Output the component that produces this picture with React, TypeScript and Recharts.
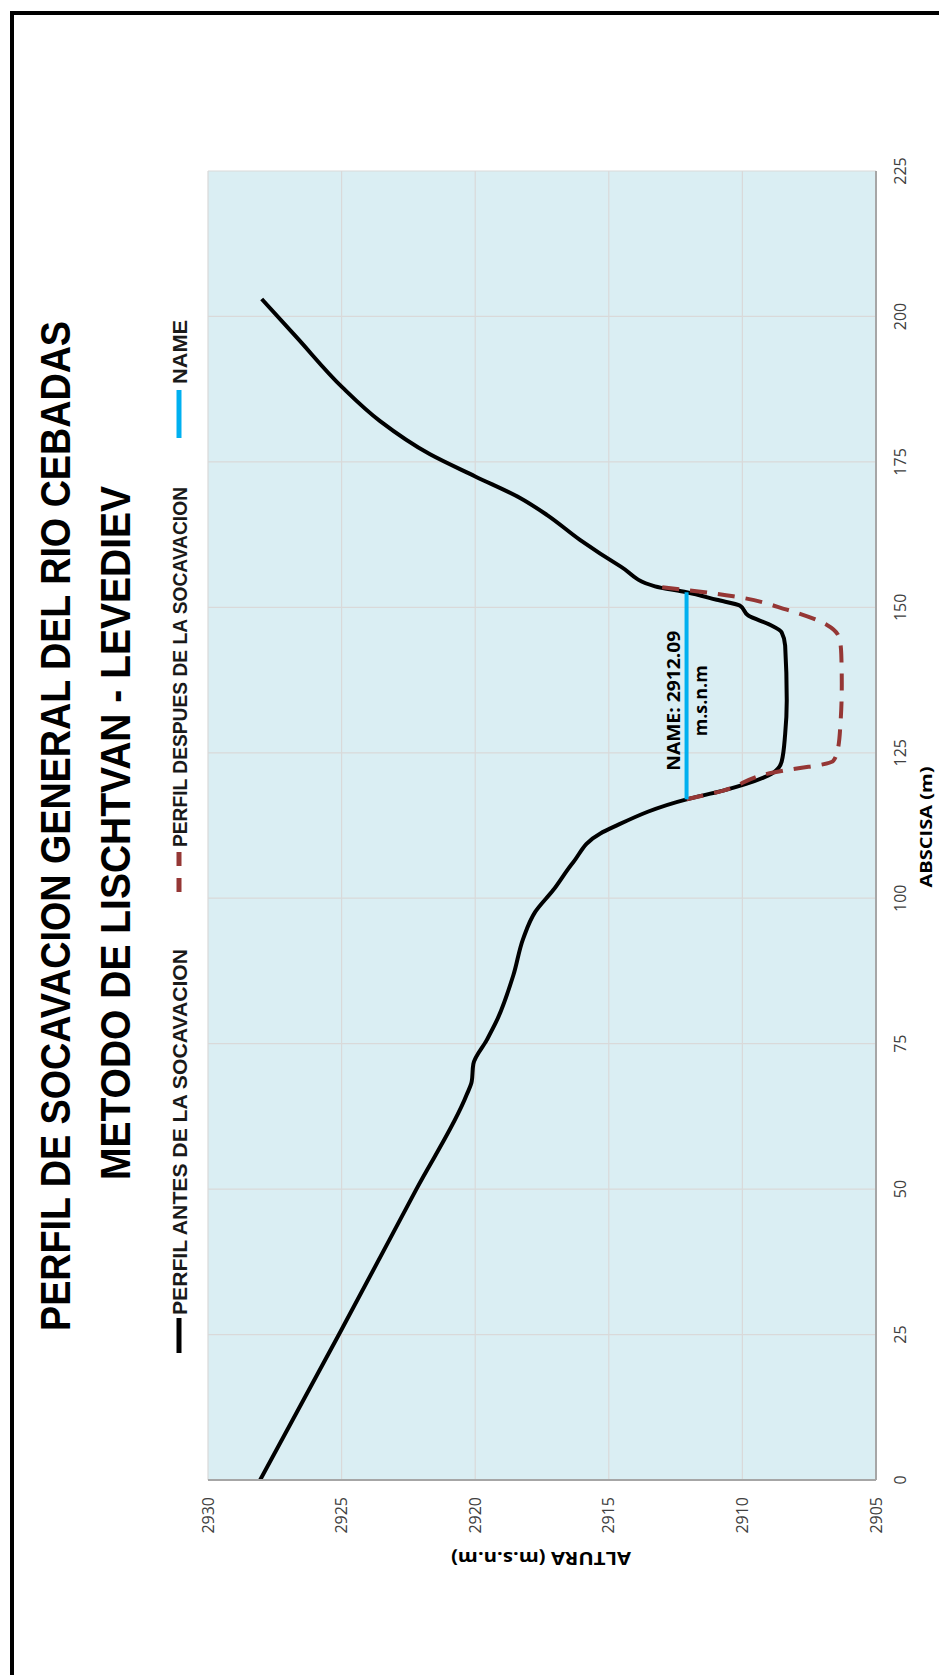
import { CartesianGrid, Line, LineChart, ReferenceDot, XAxis, YAxis } from "recharts";

// chart is drawn sideways (rotated -90deg) like the reference sheet
const W = 1675;
const H = 939;

const abscisaTicks = [0, 25, 50, 75, 100, 125, 150, 175, 200, 225];
const alturaTicks = [2905, 2910, 2915, 2920, 2925, 2930];

const perfilAntes = [
  { abscisa: 0, altura: 2928.05 },
  { abscisa: 25, altura: 2925.1 },
  { abscisa: 50, altura: 2922.2 },
  { abscisa: 66.2, altura: 2920.32 },
  { abscisa: 68.5, altura: 2920.13 },
  { abscisa: 71.5, altura: 2920.07 },
  { abscisa: 75.6, altura: 2919.57 },
  { abscisa: 78.9, altura: 2919.2 },
  { abscisa: 86.8, altura: 2918.57 },
  { abscisa: 93.1, altura: 2918.2 },
  { abscisa: 97.6, altura: 2917.76 },
  { abscisa: 101.4, altura: 2917.08 },
  { abscisa: 106.2, altura: 2916.33 },
  { abscisa: 111.1, altura: 2915.33 },
  { abscisa: 112.3, altura: 2914.8 },
  { abscisa: 117.0, altura: 2912.09 },
  { abscisa: 118.5, altura: 2910.72 },
  { abscisa: 121.6, altura: 2908.84 },
  { abscisa: 123.5, altura: 2908.53 },
  { abscisa: 128.2, altura: 2908.4 },
  { abscisa: 134.0, altura: 2908.34 },
  { abscisa: 143.4, altura: 2908.4 },
  { abscisa: 145.7, altura: 2908.53 },
  { abscisa: 147.0, altura: 2908.97 },
  { abscisa: 148.6, altura: 2909.78 },
  { abscisa: 150.3, altura: 2910.1 },
  { abscisa: 151.3, altura: 2910.96 },
  { abscisa: 152.6, altura: 2912.09 },
  { abscisa: 153.6, altura: 2913.27 },
  { abscisa: 157.0, altura: 2914.55 },
  { abscisa: 161.6, altura: 2916.08 },
  { abscisa: 165.9, altura: 2917.32 },
  { abscisa: 168.8, altura: 2918.32 },
  { abscisa: 172.5, altura: 2920.0 },
  { abscisa: 176.3, altura: 2921.69 },
  { abscisa: 182.0, altura: 2923.56 },
  { abscisa: 187.8, altura: 2924.97 },
  { abscisa: 196.4, altura: 2926.68 },
  { abscisa: 203.0, altura: 2927.99 },
];

const perfilDespues = [
  { abscisa: 117.0, altura: 2912.09 },
  { abscisa: 118.5, altura: 2910.72 },
  { abscisa: 121.6, altura: 2908.84 },
  { abscisa: 122.4, altura: 2907.84 },
  { abscisa: 122.9, altura: 2907.1 },
  { abscisa: 123.6, altura: 2906.6 },
  { abscisa: 125.8, altura: 2906.42 },
  { abscisa: 130.0, altura: 2906.33 },
  { abscisa: 136.8, altura: 2906.28 },
  { abscisa: 142.0, altura: 2906.3 },
  { abscisa: 144.7, altura: 2906.37 },
  { abscisa: 147.0, altura: 2906.85 },
  { abscisa: 149.6, altura: 2908.34 },
  { abscisa: 151.9, altura: 2910.34 },
  { abscisa: 152.9, altura: 2911.96 },
  { abscisa: 153.6, altura: 2913.27 },
];

const nivelName = [
  { abscisa: 117.0, altura: 2912.09 },
  { abscisa: 152.6, altura: 2912.09 },
];

const tituloLineas = [
  "PERFIL DE SOCAVACION GENERAL DEL RIO CEBADAS",
  "METODO DE LISCHTVAN - LEVEDIEV",
];
const serieNombres = [
  "PERFIL ANTES DE LA SOCAVACION",
  "PERFIL DESPUES DE LA SOCAVACION",
  "NAME",
];

const boldFont = "'Liberation Sans', Arial, sans-serif";
const tickFont = "'Open Sans', sans-serif";

const NameLabel = (props: any) => {
  const vb = props.viewBox || {};
  const cx = (vb.x || 0) + (vb.width || 0) / 2 - 5;
  const cy = (vb.y || 0) + (vb.height || 0) / 2;
  return (
    <g>
      <text
        x={cx}
        y={cy - 7}
        textAnchor="middle"
        fontFamily={tickFont}
        fontWeight="bold"
        fontSize={18}
        fill="#000"
        textLength={140}
        lengthAdjust="spacingAndGlyphs"
      >
        NAME: 2912.09
      </text>
      <text
        x={cx}
        y={cy + 20}
        textAnchor="middle"
        fontFamily={tickFont}
        fontWeight="bold"
        fontSize={18}
        fill="#000"
        textLength={71}
        lengthAdjust="spacingAndGlyphs"
      >
        m.s.n.m
      </text>
    </g>
  );
};

const Overlay = () => (
  <svg
    width={W}
    height={H}
    style={{ position: "absolute", left: 0, top: 0, pointerEvents: "none" }}
  >
    <text
      x={849}
      y={70}
      textAnchor="middle"
      fontFamily={boldFont}
      fontWeight="bold"
      fontSize={42}
      textLength={1010}
      lengthAdjust="spacingAndGlyphs"
      fill="#000"
    >
      {tituloLineas[0]}
    </text>
    <text
      x={842}
      y={130}
      textAnchor="middle"
      fontFamily={boldFont}
      fontWeight="bold"
      fontSize={42}
      textLength={694}
      lengthAdjust="spacingAndGlyphs"
      fill="#000"
    >
      {tituloLineas[1]}
    </text>

    {/* legend */}
    <line x1={322} x2={357} y1={179} y2={179} stroke="#000" strokeWidth={5} />
    <text
      x={360}
      y={187}
      fontFamily={boldFont}
      fontWeight="bold"
      fontSize={21}
      textLength={366}
      lengthAdjust="spacingAndGlyphs"
      fill="#1a1a1a"
    >
      {serieNombres[0]}
    </text>
    <line
      x1={783}
      x2={823}
      y1={179}
      y2={179}
      stroke="#953735"
      strokeWidth={5}
      strokeDasharray="14 12"
    />
    <text
      x={828}
      y={187}
      fontFamily={boldFont}
      fontWeight="bold"
      fontSize={21}
      textLength={360}
      lengthAdjust="spacingAndGlyphs"
      fill="#1a1a1a"
    >
      {serieNombres[1]}
    </text>
    <line x1={1237} x2={1285} y1={179} y2={179} stroke="#00B0F0" strokeWidth={5} />
    <text
      x={1291}
      y={187}
      fontFamily={boldFont}
      fontWeight="bold"
      fontSize={21}
      textLength={64}
      lengthAdjust="spacingAndGlyphs"
      fill="#1a1a1a"
    >
      {serieNombres[2]}
    </text>

    {/* axis titles */}
    <text
      x={123}
      y={541}
      transform="rotate(-90 123 541)"
      textAnchor="middle"
      fontFamily={tickFont}
      fontWeight="bold"
      fontSize={17}
      textLength={180}
      lengthAdjust="spacingAndGlyphs"
      fill="#000"
    >
      ALTURA (m.s.n.m)
    </text>
    <text
      x={848}
      y={932}
      textAnchor="middle"
      fontFamily={tickFont}
      fontWeight="bold"
      fontSize={16}
      textLength={121}
      lengthAdjust="spacingAndGlyphs"
      fill="#000"
    >
      ABSCISA (m)
    </text>
  </svg>
);

export default function App() {
  const midAbscisa = (nivelName[0].abscisa + nivelName[1].abscisa) / 2;
  return (
    <div
      style={{
        position: "absolute",
        left: 0,
        top: 0,
        width: H,
        height: W,
        overflow: "hidden",
        background: "#fff",
      }}
    >
      <div
        style={{
          position: "absolute",
          left: 0,
          top: 0,
          width: W,
          height: H,
          transformOrigin: "0 0",
          transform: `translateY(${W}px) rotate(-90deg)`,
        }}
      >
        <div
          style={{
            position: "absolute",
            left: -20,
            top: 10,
            width: 1684,
            height: 1000,
            border: "4px solid #000",
            boxSizing: "border-box",
          }}
        />
        <div style={{ position: "absolute", left: 0, top: 0 }}>
          <LineChart
            width={W}
            height={H}
            margin={{ top: 208, right: 171, bottom: 23, left: 115 }}
          >
            <CartesianGrid fill="#DAEEF3" stroke="#D9D9D9" strokeWidth={1.2} />
            <XAxis
              dataKey="abscisa"
              type="number"
              domain={[0, 225]}
              ticks={abscisaTicks}
              height={40}
              tickLine={false}
              tickMargin={13}
              axisLine={{ stroke: "#A6A6A6", strokeWidth: 2 }}
              tick={{ fontSize: 16, fill: "#404040", fontFamily: tickFont }}
              allowDataOverflow
            />
            <YAxis
              type="number"
              domain={[2905, 2930]}
              ticks={alturaTicks}
              width={80}
              tickLine={false}
              tickMargin={11}
              axisLine={{ stroke: "#A6A6A6", strokeWidth: 2 }}
              tick={{ fontSize: 16, fill: "#404040", fontFamily: tickFont }}
              allowDataOverflow
            />
            <Line
              data={perfilAntes}
              dataKey="altura"
              name={serieNombres[0]}
              type="monotone"
              stroke="#000"
              strokeWidth={4}
              dot={false}
              activeDot={false}
              isAnimationActive={false}
            />
            <Line
              data={perfilDespues}
              dataKey="altura"
              name={serieNombres[1]}
              type="monotone"
              stroke="#953735"
              strokeWidth={4}
              strokeDasharray="17 11"
              dot={false}
              activeDot={false}
              isAnimationActive={false}
            />
            <Line
              data={nivelName}
              dataKey="altura"
              name={serieNombres[2]}
              type="linear"
              stroke="#00B0F0"
              strokeWidth={4}
              dot={false}
              activeDot={false}
              isAnimationActive={false}
            />
            <ReferenceDot
              x={midAbscisa}
              y={nivelName[0].altura}
              r={0}
              fill="none"
              stroke="none"
              label={<NameLabel />}
            />
          </LineChart>
        </div>
        <Overlay />
      </div>
    </div>
  );
}
